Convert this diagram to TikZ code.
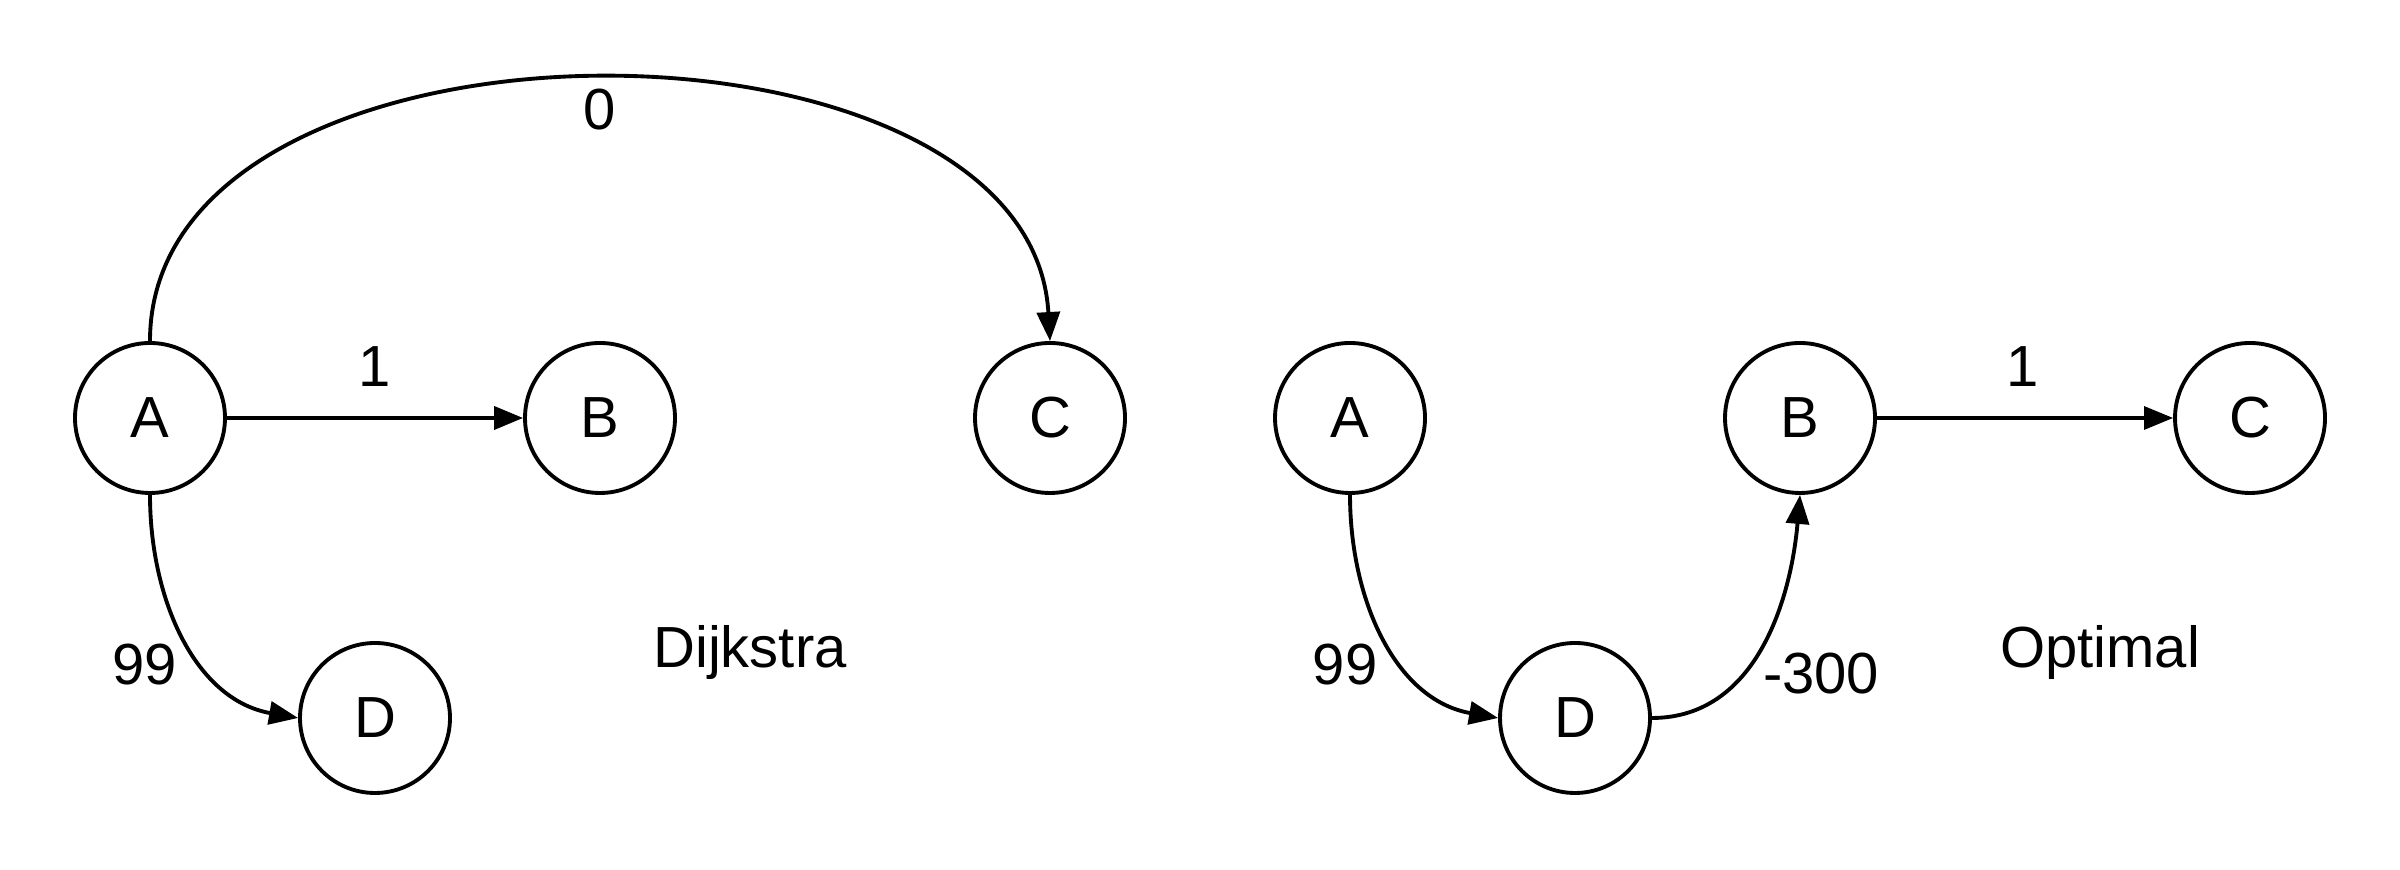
\documentclass[tikz,border=0pt]{standalone}
\usepackage{fontspec}
\setmainfont{Liberation Sans}
\usetikzlibrary{arrows.meta}
\tikzset{>={Triangle[length=2.9mm, width=2.3mm]}}
\tikzset{vertex/.style={circle, draw, line width=1.1pt, minimum size=1.5cm, inner sep=0pt}}

\begin{document}
\begin{tikzpicture}[font=\fontsize{16.5}{19}\selectfont, line width=1.1pt]
    \useasboundingbox (0, 0) rectangle (24, 8.7);
    % Dijkstra
    \node[vertex] (A1) at (1.5, 4.52) {A};
    \node[vertex] (B1) at (6.0, 4.52) {B};
    \node[vertex] (C1) at (10.5, 4.52) {C};
    \node[vertex] (D1) at (3.75, 1.52) {D};
    \draw[->] (A1)--(B1);
    \draw[->] (A1.north) .. controls (1.5, 8.78) and (10.3, 8.78) .. (C1.north);
    \draw[->] (A1.south) to[out=-90, in=170] (D1.west);
    \node (w01) at (6.0, 7.6) {0};
    \node (w11) at (3.75, 5.03) {1};
    \node (w21) at (1.45, 2.05) {99};
    \node (t1) at (7.5, 2.17) {Dijkstra};
    % Optimal
    \node[vertex] (A2) at (13.5, 4.52) {A};
    \node[vertex] (B2) at (18.0, 4.52) {B};
    \node[vertex] (C2) at (22.5, 4.52) {C};
    \node[vertex] (D2) at (15.75, 1.52) {D};
    \draw[->, line width=0.9pt] (B2)--(C2);
    \draw[->] (A2.south) to[out=-90, in=170] (D2.west);
    \draw[->] (D2.east) to[out=0, in=-95] (B2.south);
    \node (w22) at (13.45, 2.05) {99};
    \node (w32) at (18.21, 1.96) {-300};
    \node (w12) at (20.23, 5.03) {1};
    \node (t2) at (21.0, 2.17) {Optimal};
\end{tikzpicture}
\end{document}
